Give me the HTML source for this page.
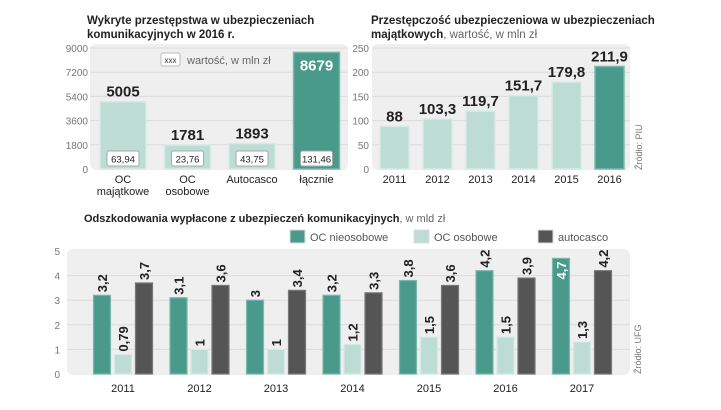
<!DOCTYPE html>
<html><head><meta charset="utf-8">
<style>
body{margin:0;background:#fff;width:721px;height:405px;overflow:hidden;font-family:"Liberation Sans",sans-serif;}
svg text{font-family:"Liberation Sans","DejaVu Sans",sans-serif;}
</style></head>
<body>
<svg id="s" width="721" height="405" viewBox="0 0 721 405" xmlns="http://www.w3.org/2000/svg">
<text x="87" y="24" font-size="11.5" font-weight="bold" fill="#222">Wykryte przestępstwa w ubezpieczeniach</text>
<text x="87" y="38" font-size="11.5" font-weight="bold" fill="#222">komunikacyjnych w 2016 r.</text>
<text x="371" y="24" font-size="11.5" font-weight="bold" fill="#222">Przestępczość ubezpieczeniowa w ubezpieczeniach</text>
<text x="371" y="38" font-size="11.5" fill="#222"><tspan font-weight="bold">majątkowych</tspan><tspan fill="#666">, wartość, w mln zł</tspan></text>
<text x="84" y="222" font-size="11" fill="#222"><tspan font-weight="bold">Odszkodowania wypłacone z ubezpieczeń komunikacyjnych</tspan><tspan fill="#666">, w mld zł</tspan></text>
<text transform="translate(642,170) rotate(-90)" font-size="9" fill="#777">Źródło: PIU</text>
<text transform="translate(641,374) rotate(-90)" font-size="9" fill="#777">Źródło: UFG</text>
<g id="c1"></g><g id="c2"></g><g id="c3"></g>
</svg>
<script>
const NS="http://www.w3.org/2000/svg";
function mk(p,t,a,txt){const e=document.createElementNS(NS,t);for(const k in a)e.setAttribute(k,a[k]);if(txt!==undefined)e.textContent=txt;p.appendChild(e);return e;}
const TEAL="#4a9a8b",LIGHT="#bddcd3",DARK="#555555";

// Chart 1
const c1Cats=[["OC","majątkowe"],["OC","osobowe"],["Autocasco",""],["łącznie",""]];
const c1Counts=[5005,1781,1893,8679];
const c1Values=["63,94","23,76","43,75","131,46"];
const c1Ticks=[0,1800,3600,5400,7200,9000];
// Chart 2
const c2Years=["2011","2012","2013","2014","2015","2016"];
const c2Values=[88,103.3,119.7,151.7,179.8,211.9];
const c2Ticks=[0,50,100,150,200,250];
// Chart 3
const c3Years=["2011","2012","2013","2014","2015","2016","2017"];
const c3Nieos=[3.2,3.1,3.0,3.2,3.8,4.2,4.7];
const c3Osob=[0.79,1,1,1.2,1.5,1.5,1.3];
const c3Auto=[3.7,3.6,3.4,3.3,3.6,3.9,4.2];
const c3Ticks=[0,1,2,3,4,5];
const fmt=v=>String(v).replace('.',',');

(function(){
 const g=document.getElementById('c1');
 const y=v=>169-v/9000*121;
 const p=mk(g,'rect',{x:90,y:44,width:258,height:126,rx:6,fill:"#efefef"});
 
 c1Ticks.forEach(t=>{
  if(t>0){const l=mk(g,'line',{x1:90,x2:348,y1:y(t),y2:y(t),stroke:"#dcdcdc","stroke-width":1});
  }
  const tx=mk(g,'text',{x:88,y:y(t)+4,"text-anchor":"end","font-size":10,fill:"#777"},t);
  
 });
 const lb=mk(g,'rect',{x:161,y:53,width:19,height:13,rx:2,fill:"#fff",stroke:"#bbb"});
 
 const lt=mk(g,'text',{x:170.5,y:63,"text-anchor":"middle","font-size":8,fill:"#333"},"xxx");
 
 const ll=mk(g,'text',{x:187,y:64,"font-size":11,fill:"#666"},"wartość, w mln zł");
 
 c1Counts.forEach((v,i)=>{
  const cx=123+i*64.5,w=46,last=i===c1Counts.length-1;
  const b=mk(g,'rect',{x:cx-w/2,y:y(v),width:w,height:169-y(v),fill:last?TEAL:LIGHT,stroke:last?"#7ab8ab":"#d6ebe5","stroke-width":1.5});
  
  const vt=mk(g,'text',{x:cx,y:last?y(v)+18:y(v)-5,"text-anchor":"middle","font-size":15,"font-weight":"bold",fill:last?"#fff":"#222"},String(v));
  
  const bx=mk(g,'rect',{x:cx-16,y:151,width:32,height:15,rx:2,fill:"#fff",stroke:"#aaa"});
  
  const bt=mk(g,'text',{x:cx,y:162.5,"text-anchor":"middle","font-size":9.5,fill:"#222"},c1Values[i]);
  
  c1Cats[i].forEach((s,j)=>{if(!s)return;
   const ct=mk(g,'text',{x:cx,y:183+j*12,"text-anchor":"middle","font-size":11,fill:"#222"},s);
   });
 });
})();

(function(){
 const g=document.getElementById('c2');
 const y=v=>169-v/250*121;
 const p=mk(g,'rect',{x:372,y:44,width:258,height:126,rx:6,fill:"#efefef"});
 
 c2Ticks.forEach(t=>{
  if(t>0){const l=mk(g,'line',{x1:372,x2:630,y1:y(t),y2:y(t),stroke:"#dcdcdc"});
  }
  const tx=mk(g,'text',{x:369,y:y(t)+4,"text-anchor":"end","font-size":10,fill:"#777"},t);
  
 });
 c2Values.forEach((v,i)=>{
  const cx=394.5+i*43,w=29,last=i===c2Values.length-1;
  const b=mk(g,'rect',{x:cx-w/2,y:y(v),width:w,height:169-y(v),fill:last?TEAL:LIGHT,stroke:last?"#7ab8ab":"#d6ebe5","stroke-width":1.5});
  
  const vt=mk(g,'text',{x:cx,y:y(v)-5,"text-anchor":"middle","font-size":15,"font-weight":"bold",fill:"#222"},fmt(v));
  
  const yt=mk(g,'text',{x:cx,y:183,"text-anchor":"middle","font-size":11,fill:"#222"},c2Years[i]);
  
 });
})();

(function(){
 const g=document.getElementById('c3');
 const y=v=>374-v/5*123;
 const leg=[["OC nieosobowe",TEAL,290],["OC osobowe",LIGHT,414],["autocasco",DARK,538]];
 leg.forEach(l=>{
  const r=mk(g,'rect',{x:l[2],y:230,width:15,height:13,fill:l[1],stroke:"#ddd"});
  
  const t=mk(g,'text',{x:l[2]+20,y:241,"font-size":11,fill:"#555"},l[0]);
  
 });
 const p=mk(g,'rect',{x:67,y:249,width:563,height:126,rx:6,fill:"#efefef"});
 
 c3Ticks.forEach(t=>{
  if(t>0&&t<5){const l=mk(g,'line',{x1:67,x2:630,y1:y(t),y2:y(t),stroke:"#dcdcdc"});
  }
  const tx=mk(g,'text',{x:60,y:y(t)+4,"text-anchor":"end","font-size":10,fill:"#777"},t);
  
 });
 const series=[[c3Nieos,TEAL,-21],[c3Osob,LIGHT,0],[c3Auto,DARK,21]];
 c3Years.forEach((yr,i)=>{
  const gc=123+i*76.5;
  series.forEach((s,k)=>{
   const v=s[0][i],cx=gc+s[2],w=17;
   const b=mk(g,'rect',{x:cx-w/2,y:y(v),width:w,height:374-y(v),fill:s[1],stroke:k===1?"#d6ebe5":(k===0?"#7ab8ab":"#777"),"stroke-width":1.2});
   
   const inside=y(v)-40<249&&k===0&&v>=4.5;
   const ty=inside?y(v)+3:y(v)-3;
   const t=mk(g,'text',{transform:`translate(${cx+5},${ty}) rotate(-90)`,"text-anchor":inside?"end":"start","font-size":13,"font-weight":"bold",fill:inside?"#fff":"#222"},fmt(v));
   
  });
  const yt=mk(g,'text',{x:gc,y:392,"text-anchor":"middle","font-size":11,fill:"#222"},yr);
  
 });
})();
</script>
</body></html>
